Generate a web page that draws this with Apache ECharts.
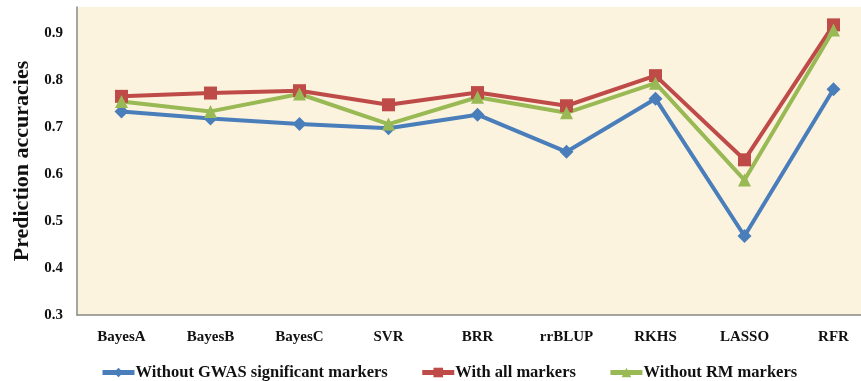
<!DOCTYPE html>
<html><head><meta charset="utf-8">
<script src="https://cdn.jsdelivr.net/npm/echarts@6/dist/echarts.min.js"></script>
<style>html,body{margin:0;padding:0;background:#fff;overflow:hidden}#c{width:880px;height:381px}</style>
</head><body><div id="c"></div>
<script>
const categories = ['BayesA','BayesB','BayesC','SVR','BRR','rrBLUP','RKHS','LASSO','RFR'];
const withoutGWAS = [0.733,0.718,0.706,0.697,0.726,0.647,0.760,0.468,0.780];
const withAll = [0.765,0.772,0.777,0.747,0.773,0.745,0.809,0.630,0.917];
const withoutRM = [0.754,0.733,0.770,0.706,0.763,0.730,0.793,0.587,0.906];
const seriesNames = ['Without GWAS significant markers','With all markers','Without RM markers'];
const yTicks = [0.3,0.4,0.5,0.6,0.7,0.8,0.9];

const font = '"Liberation Serif","Times New Roman",serif';
const chart = echarts.init(document.getElementById('c'));
function mk(name, data, color, symbol, size){
  return {name, type:'line', data, color, symbol, symbolSize:size,
    lineStyle:{width:4,color}, itemStyle:{color}, z: 3};
}
chart.setOption({
  animation:false,
  grid:{left:77,width:801,top:7,height:308,show:true,backgroundColor:'#FCF3DE',borderWidth:0},
  legend:{left:95,top:359,itemGap:32,itemWidth:32,itemHeight:12,
    lineStyle:{width:5},
    textStyle:{fontFamily:font,fontWeight:'bold',fontSize:16.5,color:'#111',padding:[0,0,0,-4]},
    data:seriesNames},
  xAxis:{type:'category',data:categories,boundaryGap:true,
    axisLine:{lineStyle:{color:'#888',width:1.5}},axisTick:{show:false},
    axisLabel:{fontFamily:font,fontWeight:'bold',fontSize:15,color:'#111',margin:15}},
  yAxis:{type:'value',min:0.3,max:0.955,interval:0.1,
    name:'Prediction accuracies',nameLocation:'middle',nameGap:44,
    nameTextStyle:{fontFamily:font,fontWeight:'bold',fontSize:22,color:'#111'},
    axisLine:{show:true,lineStyle:{color:'#888',width:1.5}},axisTick:{show:false},splitLine:{show:false},
    axisLabel:{fontFamily:font,fontWeight:'bold',fontSize:15,color:'#111',margin:14,showMaxLabel:false,
      formatter:v=>{const t=yTicks.find(x=>Math.abs(x-v)<1e-6);return t!==undefined?t.toFixed(1):'';}}},
  series:[
    mk(seriesNames[0],withoutGWAS,'#4A7EBB','diamond',14),
    mk(seriesNames[1],withAll,'#BE4B48','rect',13),
    mk(seriesNames[2],withoutRM,'#98B954','triangle',13)
  ]
});
</script></body></html>
